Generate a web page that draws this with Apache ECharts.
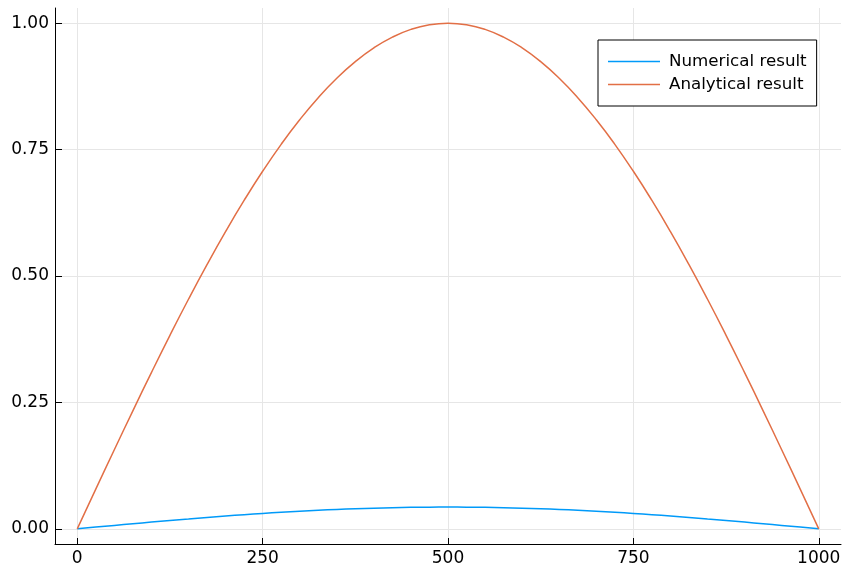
<!DOCTYPE html>
<html>
<head>
<meta charset="utf-8">
<script src="https://cdn.jsdelivr.net/npm/echarts@6/dist/echarts.min.js"></script>
<style>
  html, body { margin: 0; padding: 0; background: #fff; }
  #chart { width: 845px; height: 571px; }
</style>
</head>
<body>
<div id="chart"></div>
<script>
// Sample positions along the rod
const xs = [0, 25, 50, 75, 100, 125, 150, 175, 200, 225, 250, 275, 300, 325, 350, 375, 400, 425, 450, 475,
            500, 525, 550, 575, 600, 625, 650, 675, 700, 725, 750, 775, 800, 825, 850, 875, 900, 925, 950, 975, 1000];

// Numerical solution values
const numerical = [0, 0.0034, 0.0067, 0.0100, 0.0133, 0.0165, 0.0195, 0.0225, 0.0253, 0.0279, 0.0304,
                   0.0327, 0.0348, 0.0367, 0.0383, 0.0397, 0.0409, 0.0418, 0.0425, 0.0429, 0.0430,
                   0.0429, 0.0425, 0.0418, 0.0409, 0.0397, 0.0383, 0.0367, 0.0348, 0.0327, 0.0304,
                   0.0279, 0.0253, 0.0225, 0.0195, 0.0165, 0.0133, 0.0100, 0.0067, 0.0034, 0];

// Analytical solution values
const analytical = [0, 0.0785, 0.1564, 0.2334, 0.3090, 0.3827, 0.4540, 0.5225, 0.5878, 0.6494, 0.7071,
                    0.7604, 0.8090, 0.8526, 0.8910, 0.9239, 0.9511, 0.9724, 0.9877, 0.9969, 1.0000,
                    0.9969, 0.9877, 0.9724, 0.9511, 0.9239, 0.8910, 0.8526, 0.8090, 0.7604, 0.7071,
                    0.6494, 0.5878, 0.5225, 0.4540, 0.3827, 0.3090, 0.2334, 0.1564, 0.0785, 0];

const xTicks = [0, 250, 500, 750, 1000];
const yTicks = [0, 0.25, 0.5, 0.75, 1.0];
const seriesNames = ['Numerical result', 'Analytical result'];
const colors = ['#009af9', '#e26f46'];

const pair = (ys) => xs.map((x, i) => [x, ys[i]]);

const font = '"DejaVu Sans", Verdana, sans-serif';
const chart = echarts.init(document.getElementById('chart'), null, { renderer: 'canvas' });

chart.setOption({
  animation: false,
  backgroundColor: '#ffffff',
  grid: { left: 55, right: 4, top: 8, bottom: 27, containLabel: false },
  legend: {
    left: 598,
    top: 40,
    orient: 'vertical',
    data: seriesNames.map((name) => ({ name, icon: 'rect' })),
    itemWidth: 52,
    itemHeight: 1.5,
    itemGap: 2,
    padding: [11, 10, 11, 10],
    borderColor: '#000',
    borderWidth: 1,
    borderRadius: 0,
    backgroundColor: '#fff',
    textStyle: { fontFamily: font, fontSize: 16.7, color: '#000', lineHeight: 21, padding: [0, 0, 0, 4] }
  },
  xAxis: {
    type: 'value',
    min: -30,
    max: 1030,
    axisLine: { onZero: false, lineStyle: { color: '#000', width: 1 } },
    axisTick: { inside: true, length: 6, customValues: xTicks, lineStyle: { color: '#000' } },
    axisLabel: {
      customValues: xTicks,
      margin: 6,
      fontFamily: font, fontSize: 17, color: '#000',
      formatter: (v) => String(Math.round(v))
    },
    splitLine: { show: true, lineStyle: { color: '#e6e6e6', width: 1 } }
  },
  yAxis: {
    type: 'value',
    min: -0.03,
    max: 1.03,
    axisLine: { show: true, onZero: false, lineStyle: { color: '#000', width: 1 } },
    axisTick: { show: true, inside: true, length: 7, customValues: yTicks, lineStyle: { color: '#000' } },
    axisLabel: {
      customValues: yTicks,
      margin: 6,
      fontFamily: font, fontSize: 17, color: '#000',
      formatter: (v) => v.toFixed(2)
    },
    splitLine: { show: true, lineStyle: { color: '#e6e6e6', width: 1 } }
  },
  series: [
    {
      name: seriesNames[0],
      type: 'line',
      data: pair(numerical),
      smooth: true,
      symbol: 'none',
      lineStyle: { color: colors[0], width: 1.5 },
      itemStyle: { color: colors[0] }
    },
    {
      name: seriesNames[1],
      type: 'line',
      data: pair(analytical),
      smooth: true,
      symbol: 'none',
      lineStyle: { color: colors[1], width: 1.5 },
      itemStyle: { color: colors[1] }
    }
  ]
});
</script>
</body>
</html>
